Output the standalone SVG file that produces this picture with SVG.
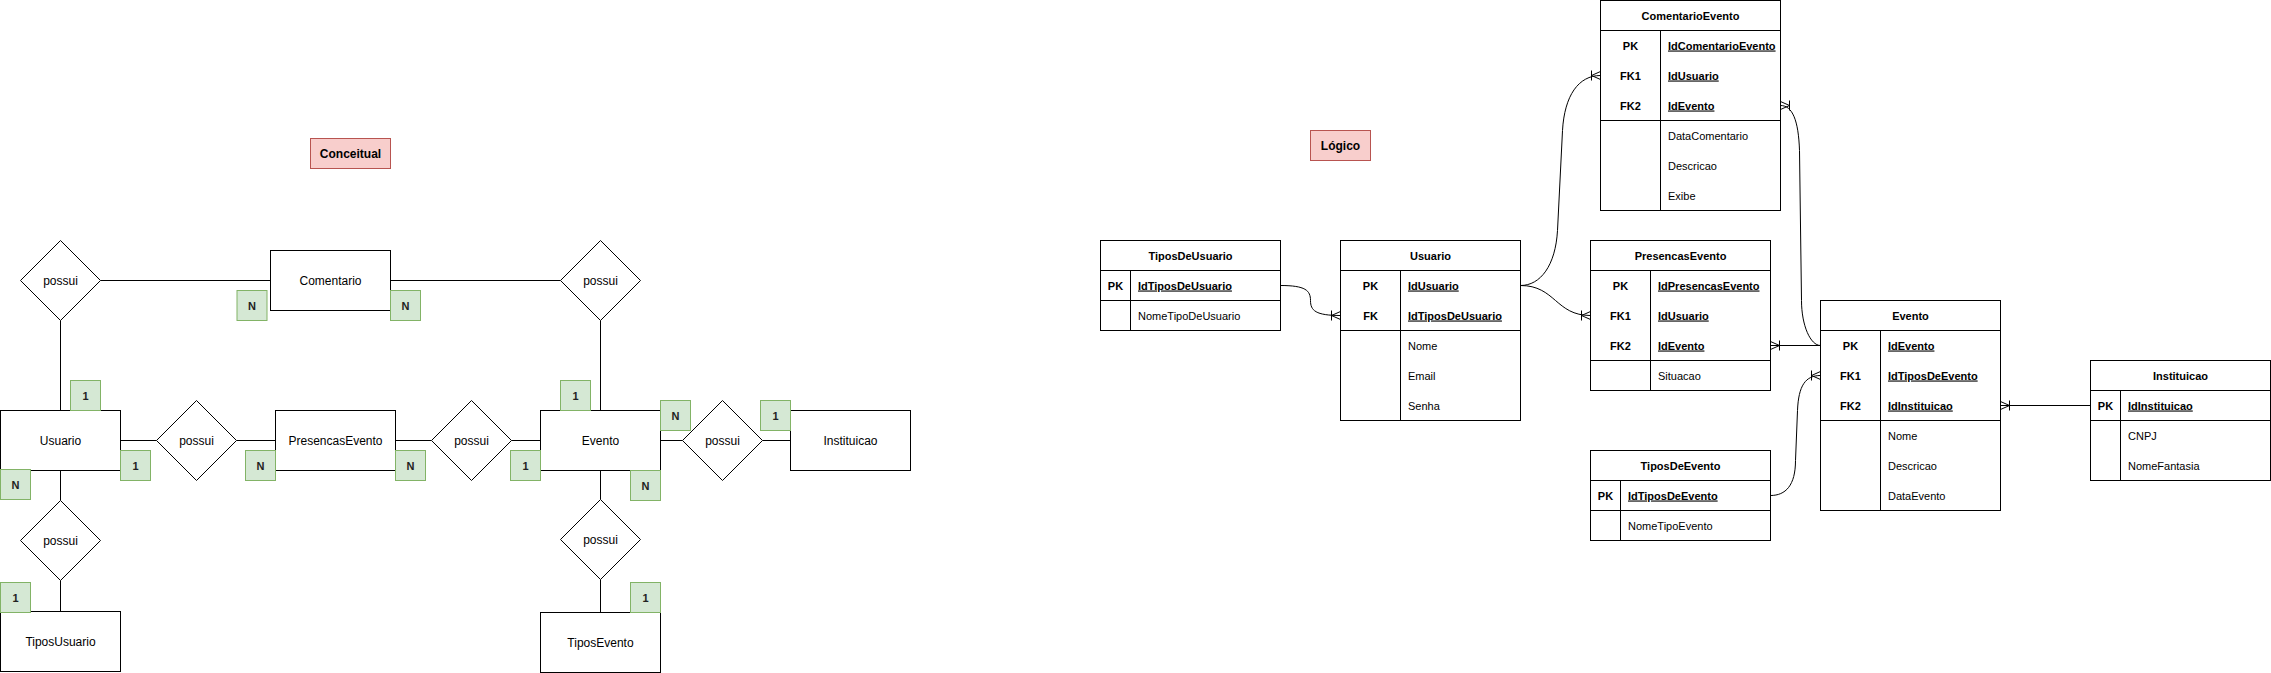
<svg xmlns="http://www.w3.org/2000/svg" width="2271" height="673" viewBox="0 0 2271 673">
<style>
.ent{fill:#fff;stroke:#000;stroke-width:1}
.card{fill:#d5e8d4;stroke:#82b366;stroke-width:1}
.ttl{fill:#f8cecc;stroke:#b85450;stroke-width:1}
.ln{fill:none;stroke:#000;stroke-width:1}
text{font-family:"Liberation Sans",Arial,Helvetica,sans-serif;fill:#000}
.t12{font-size:12px;text-anchor:middle}
.tb12{font-size:12px;font-weight:bold;text-anchor:middle}
.cd{font-size:11px;font-weight:bold;text-anchor:middle;fill:#222}
.hd{font-size:11px;font-weight:bold;text-anchor:middle}
.key{font-size:11px;font-weight:bold;text-decoration:underline}
.kc{font-size:11px;font-weight:bold;text-anchor:middle}
.fd{font-size:11px}
</style>
<defs>
<marker id="otm" viewBox="-12 -6 14 12" markerWidth="14" markerHeight="12" refX="0" refY="0" orient="auto" markerUnits="userSpaceOnUse" overflow="visible">
<path d="M0,-4 L-9,0 L0,4 M-9,-5 L-9,5" fill="none" stroke="#000" stroke-width="1"/>
</marker>
</defs>
<rect x="0" y="0" width="2271" height="673" fill="#fff"/>
<g transform="translate(0.5,0.5)">
<!-- Conceptual connectors -->
<g id="conceptual-connectors" class="ln">
<path class="ln" d="M100,280 L270,280"/>
<path class="ln" d="M390,280 L560,280"/>
<path class="ln" d="M60,320 L60,410"/>
<path class="ln" d="M600,320 L600,410"/>
<path class="ln" d="M120,440 L156,440"/>
<path class="ln" d="M236,440 L275,440"/>
<path class="ln" d="M395,440 L431,440"/>
<path class="ln" d="M511,440 L540,440"/>
<path class="ln" d="M660,440 L682,440"/>
<path class="ln" d="M762,440 L790,440"/>
<path class="ln" d="M60,470 L60,500"/>
<path class="ln" d="M60,580 L60,611"/>
<path class="ln" d="M600,470 L600,499"/>
<path class="ln" d="M600,579 L600,612"/>
</g>
<g id="title-conceitual"><rect class="ttl" x="310" y="138" width="80" height="30"/><text class="tb12" x="350" y="157">Conceitual</text></g>
<g id="c-comentario"><rect class="ent" x="270" y="250" width="120" height="60"/><text class="t12" x="330" y="284">Comentario</text></g>
<g id="c-usuario"><rect class="ent" x="0" y="410" width="120" height="60"/><text class="t12" x="60" y="444">Usuario</text></g>
<g id="c-presencas"><rect class="ent" x="275" y="410" width="120" height="60"/><text class="t12" x="335" y="444">PresencasEvento</text></g>
<g id="c-evento"><rect class="ent" x="540" y="410" width="120" height="60"/><text class="t12" x="600" y="444">Evento</text></g>
<g id="c-instituicao"><rect class="ent" x="790" y="410" width="120" height="60"/><text class="t12" x="850" y="444">Instituicao</text></g>
<g id="c-tiposusuario"><rect class="ent" x="0" y="611" width="120" height="60"/><text class="t12" x="60" y="645">TiposUsuario</text></g>
<g id="c-tiposevento"><rect class="ent" x="540" y="612" width="120" height="60"/><text class="t12" x="600" y="646">TiposEvento</text></g>
<g id="r-usuario-comentario"><path class="ent" d="M60,240 L100,280 L60,320 L20,280 Z"/><text class="t12" x="60" y="284">possui</text></g>
<g id="r-evento-comentario"><path class="ent" d="M600,240 L640,280 L600,320 L560,280 Z"/><text class="t12" x="600" y="284">possui</text></g>
<g id="r-usuario-presencas"><path class="ent" d="M196,400 L236,440 L196,480 L156,440 Z"/><text class="t12" x="196" y="444">possui</text></g>
<g id="r-presencas-evento"><path class="ent" d="M471,400 L511,440 L471,480 L431,440 Z"/><text class="t12" x="471" y="444">possui</text></g>
<g id="r-evento-instituicao"><path class="ent" d="M722,400 L762,440 L722,480 L682,440 Z"/><text class="t12" x="722" y="444">possui</text></g>
<g id="r-usuario-tipos"><path class="ent" d="M60,500 L100,540 L60,580 L20,540 Z"/><text class="t12" x="60" y="544">possui</text></g>
<g id="r-evento-tipos"><path class="ent" d="M600,499 L640,539 L600,579 L560,539 Z"/><text class="t12" x="600" y="543">possui</text></g>
<g id="cardinalities">
<g id="card-1"><rect class="card" x="236.5" y="290" width="30" height="30"/><text class="cd" x="251.5" y="309">N</text></g>
<g id="card-2"><rect class="card" x="390" y="290" width="30" height="30"/><text class="cd" x="405" y="309">N</text></g>
<g id="card-3"><rect class="card" x="70" y="380" width="30" height="30"/><text class="cd" x="85" y="399">1</text></g>
<g id="card-4"><rect class="card" x="120" y="450" width="30" height="30"/><text class="cd" x="135" y="469">1</text></g>
<g id="card-5"><rect class="card" x="0" y="469" width="30" height="30"/><text class="cd" x="15" y="488">N</text></g>
<g id="card-6"><rect class="card" x="0" y="582" width="30" height="30"/><text class="cd" x="15" y="601">1</text></g>
<g id="card-7"><rect class="card" x="245" y="450" width="30" height="30"/><text class="cd" x="260" y="469">N</text></g>
<g id="card-8"><rect class="card" x="395" y="450" width="30" height="30"/><text class="cd" x="410" y="469">N</text></g>
<g id="card-9"><rect class="card" x="510" y="450" width="30" height="30"/><text class="cd" x="525" y="469">1</text></g>
<g id="card-10"><rect class="card" x="560" y="380" width="30" height="30"/><text class="cd" x="575" y="399">1</text></g>
<g id="card-11"><rect class="card" x="660" y="400" width="30" height="30"/><text class="cd" x="675" y="419">N</text></g>
<g id="card-12"><rect class="card" x="630" y="470" width="30" height="30"/><text class="cd" x="645" y="489">N</text></g>
<g id="card-13"><rect class="card" x="630" y="582" width="30" height="30"/><text class="cd" x="645" y="601">1</text></g>
<g id="card-14"><rect class="card" x="760" y="400" width="30" height="30"/><text class="cd" x="775" y="419">1</text></g>
</g>

<!-- Logical model -->
<g id="title-logico"><rect class="ttl" x="1310" y="130" width="60" height="30"/><text class="tb12" x="1340" y="149">Lógico</text></g>

<g id="logical-connectors">
<path class="ln" d="M1280,285 C1305,285 1310,290 1310,300 C1310,310 1315,315 1340,315" marker-end="url(#otm)"/>
<path class="ln" d="M1520,285 C1540,285 1555,265 1557,230 L1562,130 C1564,95 1578,75 1600,75" marker-end="url(#otm)"/>
<path class="ln" d="M1520,285 C1555,285 1555,315 1590,315" marker-end="url(#otm)"/>
<path class="ln" d="M1820,345 C1810,345 1801,325 1801,300 L1799,150 C1798,120 1792,105 1780,105" marker-end="url(#otm)"/>
<path class="ln" d="M1820,345 L1770,345" marker-end="url(#otm)"/>
<path class="ln" d="M1770,495 C1785,495 1795,485 1795,460 L1797,410 C1798,385 1805,375 1820,375" marker-end="url(#otm)"/>
<path class="ln" d="M2090,405 L2000,405" marker-end="url(#otm)"/>
</g>

<g id="t-tiposdeusuario">
<rect class="ent" x="1100" y="240" width="180" height="90"/>
<path class="ln" d="M1100,270 L1280,270 M1100,300 L1280,300 M1130,270 L1130,330"/>
<text class="hd" x="1190" y="259">TiposDeUsuario</text>
<text class="kc" x="1115" y="289">PK</text>
<text class="key" x="1137.5" y="289">IdTiposDeUsuario</text>
<text class="fd" x="1137.5" y="319">NomeTipoDeUsuario</text>
</g>

<g id="t-usuario">
<rect class="ent" x="1340" y="240" width="180" height="180"/>
<path class="ln" d="M1340,270 L1520,270 M1340,330 L1520,330 M1400,270 L1400,420"/>
<text class="hd" x="1430" y="259">Usuario</text>
<text class="kc" x="1370" y="289">PK</text>
<text class="key" x="1407.5" y="289">IdUsuario</text>
<text class="kc" x="1370" y="319">FK</text>
<text class="key" x="1407.5" y="319">IdTiposDeUsuario</text>
<text class="fd" x="1407.5" y="349">Nome</text>
<text class="fd" x="1407.5" y="379">Email</text>
<text class="fd" x="1407.5" y="409">Senha</text>
</g>

<g id="t-comentarioevento">
<rect class="ent" x="1600" y="0" width="180" height="210"/>
<path class="ln" d="M1600,30 L1780,30 M1600,120 L1780,120 M1660,30 L1660,210"/>
<text class="hd" x="1690" y="19">ComentarioEvento</text>
<text class="kc" x="1630" y="49">PK</text>
<text class="key" x="1667.5" y="49">IdComentarioEvento</text>
<text class="kc" x="1630" y="79">FK1</text>
<text class="key" x="1667.5" y="79">IdUsuario</text>
<text class="kc" x="1630" y="109">FK2</text>
<text class="key" x="1667.5" y="109">IdEvento</text>
<text class="fd" x="1667.5" y="139">DataComentario</text>
<text class="fd" x="1667.5" y="169">Descricao</text>
<text class="fd" x="1667.5" y="199">Exibe</text>
</g>

<g id="t-presencasevento">
<rect class="ent" x="1590" y="240" width="180" height="150"/>
<path class="ln" d="M1590,270 L1770,270 M1590,360 L1770,360 M1650,270 L1650,390"/>
<text class="hd" x="1680" y="259">PresencasEvento</text>
<text class="kc" x="1620" y="289">PK</text>
<text class="key" x="1657.5" y="289">IdPresencasEvento</text>
<text class="kc" x="1620" y="319">FK1</text>
<text class="key" x="1657.5" y="319">IdUsuario</text>
<text class="kc" x="1620" y="349">FK2</text>
<text class="key" x="1657.5" y="349">IdEvento</text>
<text class="fd" x="1657.5" y="379">Situacao</text>
</g>

<g id="t-tiposdeevento">
<rect class="ent" x="1590" y="450" width="180" height="90"/>
<path class="ln" d="M1590,480 L1770,480 M1590,510 L1770,510 M1620,480 L1620,540"/>
<text class="hd" x="1680" y="469">TiposDeEvento</text>
<text class="kc" x="1605" y="499">PK</text>
<text class="key" x="1627.5" y="499">IdTiposDeEvento</text>
<text class="fd" x="1627.5" y="529">NomeTipoEvento</text>
</g>

<g id="t-evento">
<rect class="ent" x="1820" y="300" width="180" height="210"/>
<path class="ln" d="M1820,330 L2000,330 M1820,420 L2000,420 M1880,330 L1880,510"/>
<text class="hd" x="1910" y="319">Evento</text>
<text class="kc" x="1850" y="349">PK</text>
<text class="key" x="1887.5" y="349">IdEvento</text>
<text class="kc" x="1850" y="379">FK1</text>
<text class="key" x="1887.5" y="379">IdTiposDeEvento</text>
<text class="kc" x="1850" y="409">FK2</text>
<text class="key" x="1887.5" y="409">IdInstituicao</text>
<text class="fd" x="1887.5" y="439">Nome</text>
<text class="fd" x="1887.5" y="469">Descricao</text>
<text class="fd" x="1887.5" y="499">DataEvento</text>
</g>

<g id="t-instituicao">
<rect class="ent" x="2090" y="360" width="180" height="120"/>
<path class="ln" d="M2090,390 L2270,390 M2090,420 L2270,420 M2120,390 L2120,480"/>
<text class="hd" x="2180" y="379">Instituicao</text>
<text class="kc" x="2105" y="409">PK</text>
<text class="key" x="2127.5" y="409">IdInstituicao</text>
<text class="fd" x="2127.5" y="439">CNPJ</text>
<text class="fd" x="2127.5" y="469">NomeFantasia</text>
</g>
</g>
</svg>
